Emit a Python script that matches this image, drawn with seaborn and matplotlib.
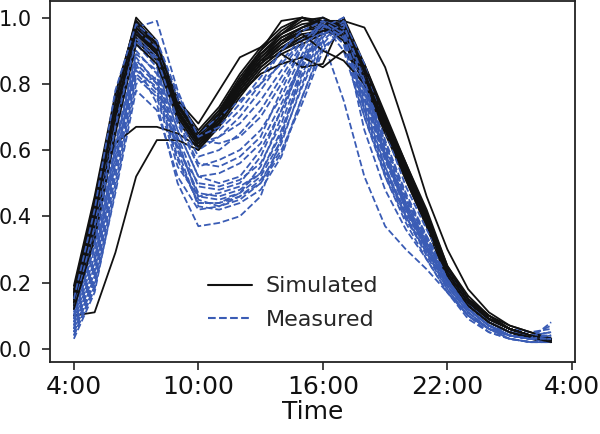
import numpy as np
import pandas as pd
import matplotlib
matplotlib.use("Agg")
import matplotlib.pyplot as plt
from matplotlib.lines import Line2D
import seaborn as sns

hours = list(range(4, 28))
xtick_pos = [4, 10, 16, 22, 28]
xtick_labels = ["4:00", "10:00", "16:00", "22:00", "4:00"]
yticks = [0.0, 0.2, 0.4, 0.6, 0.8, 1.0]

sim_01 = [0.15,0.40,0.72,0.97,0.90,0.72,0.63,0.70,0.79,0.87,0.92,0.96,0.98,0.96,0.82,0.67,0.53,0.39,0.23,0.14,0.09,0.06,0.04,0.03]
sim_02 = [0.17,0.43,0.75,1.00,0.93,0.74,0.64,0.71,0.80,0.89,0.95,0.99,1.00,0.97,0.84,0.69,0.55,0.41,0.24,0.15,0.10,0.06,0.04,0.025]
sim_03 = [0.13,0.36,0.68,0.94,0.88,0.70,0.61,0.68,0.77,0.85,0.90,0.94,0.97,0.99,0.85,0.70,0.55,0.40,0.23,0.14,0.09,0.06,0.04,0.03]
sim_04 = [0.16,0.42,0.73,0.98,0.91,0.73,0.65,0.72,0.82,0.90,0.96,1.00,0.98,0.94,0.80,0.66,0.52,0.38,0.22,0.13,0.08,0.05,0.035,0.02]
sim_05 = [0.14,0.38,0.70,0.95,0.89,0.71,0.62,0.69,0.78,0.86,0.91,0.95,0.96,0.95,0.83,0.68,0.54,0.40,0.24,0.15,0.09,0.06,0.04,0.03]
sim_06 = [0.18,0.45,0.76,0.99,0.92,0.75,0.66,0.73,0.83,0.91,0.97,1.00,0.99,0.96,0.81,0.66,0.51,0.37,0.21,0.13,0.08,0.05,0.03,0.02]
sim_07 = [0.12,0.34,0.66,0.93,0.87,0.69,0.60,0.67,0.76,0.84,0.89,0.92,0.95,0.97,0.86,0.71,0.56,0.41,0.25,0.15,0.10,0.06,0.04,0.03]
sim_08 = [0.15,0.39,0.71,0.96,0.90,0.72,0.63,0.70,0.80,0.88,0.94,0.97,0.99,0.98,0.84,0.69,0.54,0.39,0.23,0.14,0.09,0.06,0.04,0.03]
sim_09 = [0.10,0.11,0.29,0.52,0.63,0.63,0.60,0.68,0.78,0.86,0.91,0.94,0.96,0.96,0.83,0.68,0.53,0.39,0.23,0.14,0.09,0.06,0.04,0.03]
sim_10 = [0.17,0.44,0.62,0.67,0.67,0.65,0.61,0.69,0.79,0.87,0.93,0.96,0.97,0.95,0.82,0.67,0.52,0.38,0.22,0.13,0.08,0.05,0.035,0.02]
sim_11 = [0.16,0.41,0.72,0.97,0.91,0.75,0.68,0.78,0.88,0.91,0.95,1.00,0.98,0.93,0.80,0.65,0.51,0.37,0.21,0.13,0.08,0.05,0.03,0.02]
sim_12 = [0.14,0.37,0.69,0.95,0.89,0.72,0.62,0.69,0.78,0.86,0.92,0.96,0.99,0.99,0.97,0.85,0.66,0.46,0.30,0.18,0.11,0.07,0.05,0.03]
sim_13 = [0.15,0.40,0.71,0.96,0.90,0.73,0.64,0.71,0.80,0.87,0.89,0.85,0.86,1.00,0.86,0.70,0.55,0.40,0.24,0.15,0.09,0.06,0.04,0.03]
sim_14 = [0.13,0.35,0.67,0.93,0.88,0.71,0.62,0.69,0.77,0.83,0.86,0.88,0.85,0.90,0.82,0.68,0.54,0.40,0.24,0.15,0.10,0.06,0.04,0.03]
sim_15 = [0.16,0.41,0.73,0.97,0.91,0.74,0.64,0.71,0.81,0.90,0.99,1.00,0.97,0.93,0.80,0.66,0.52,0.38,0.22,0.13,0.08,0.05,0.035,0.025]
sim_16 = [0.14,0.38,0.70,0.96,0.90,0.72,0.63,0.70,0.79,0.87,0.93,0.97,1.00,0.97,0.83,0.68,0.54,0.40,0.24,0.15,0.09,0.06,0.04,0.03]
sim_17 = [0.19,0.46,0.77,0.99,0.92,0.74,0.64,0.71,0.81,0.89,0.94,0.97,0.99,0.94,0.81,0.67,0.53,0.39,0.23,0.14,0.09,0.06,0.04,0.03]
sim_18 = [0.12,0.33,0.65,0.92,0.86,0.70,0.61,0.68,0.77,0.85,0.90,0.93,0.96,0.98,0.85,0.70,0.56,0.42,0.25,0.16,0.10,0.07,0.05,0.03]
sim_19 = [0.15,0.40,0.72,0.96,0.89,0.71,0.62,0.70,0.80,0.88,0.93,0.95,0.90,0.87,0.80,0.67,0.53,0.39,0.23,0.14,0.09,0.06,0.04,0.03]
sim_20 = [0.17,0.42,0.74,0.98,0.92,0.74,0.65,0.72,0.81,0.89,0.95,0.98,0.99,0.96,0.82,0.67,0.52,0.38,0.22,0.13,0.08,0.05,0.035,0.02]

meas_01 = [0.08,0.30,0.65,0.92,0.85,0.66,0.52,0.50,0.52,0.60,0.72,0.86,0.97,0.99,0.78,0.58,0.42,0.30,0.20,0.12,0.07,0.04,0.03,0.02]
meas_02 = [0.05,0.22,0.55,0.85,0.78,0.58,0.44,0.44,0.47,0.55,0.70,0.88,0.98,0.96,0.72,0.52,0.38,0.27,0.17,0.10,0.06,0.03,0.02,0.02]
meas_03 = [0.12,0.38,0.74,0.96,0.92,0.76,0.62,0.64,0.68,0.75,0.84,0.93,0.99,0.97,0.80,0.62,0.46,0.34,0.23,0.14,0.09,0.06,0.05,0.06]
meas_04 = [0.03,0.17,0.48,0.80,0.82,0.63,0.45,0.43,0.45,0.50,0.62,0.80,0.94,1.00,0.82,0.60,0.44,0.32,0.21,0.12,0.07,0.04,0.03,0.03]
meas_05 = [0.10,0.33,0.70,0.97,0.99,0.78,0.63,0.62,0.64,0.70,0.80,0.91,0.98,0.95,0.76,0.57,0.42,0.30,0.19,0.11,0.06,0.04,0.03,0.04]
meas_06 = [0.06,0.25,0.60,0.88,0.80,0.60,0.43,0.42,0.44,0.48,0.58,0.76,0.92,0.99,0.84,0.63,0.47,0.34,0.22,0.13,0.08,0.05,0.04,0.05]
meas_07 = [0.07,0.26,0.58,0.86,0.74,0.50,0.37,0.38,0.40,0.46,0.64,0.85,0.95,0.97,0.78,0.58,0.43,0.31,0.20,0.12,0.07,0.04,0.03,0.03]
meas_08 = [0.11,0.36,0.72,0.95,0.88,0.72,0.60,0.64,0.70,0.78,0.87,0.94,0.98,0.90,0.70,0.53,0.40,0.29,0.19,0.11,0.06,0.04,0.03,0.02]
meas_09 = [0.04,0.19,0.50,0.82,0.76,0.55,0.46,0.47,0.49,0.53,0.66,0.83,0.96,0.98,0.80,0.59,0.43,0.31,0.20,0.12,0.07,0.04,0.03,0.03]
meas_10 = [0.09,0.31,0.66,0.93,0.86,0.68,0.55,0.57,0.60,0.66,0.76,0.89,0.99,0.96,0.74,0.55,0.40,0.29,0.18,0.10,0.05,0.03,0.02,0.02]
meas_11 = [0.13,0.40,0.77,0.98,0.90,0.73,0.64,0.66,0.72,0.80,0.90,0.97,1.00,0.93,0.72,0.54,0.40,0.28,0.18,0.10,0.06,0.03,0.02,0.02]
meas_12 = [0.05,0.21,0.54,0.84,0.79,0.60,0.50,0.49,0.51,0.56,0.68,0.85,0.97,0.94,0.66,0.48,0.36,0.27,0.17,0.09,0.05,0.03,0.02,0.02]
meas_13 = [0.08,0.28,0.62,0.90,0.83,0.64,0.49,0.48,0.50,0.58,0.72,0.88,0.93,0.75,0.52,0.37,0.30,0.24,0.17,0.10,0.06,0.04,0.03,0.03]
meas_14 = [0.06,0.24,0.57,0.87,0.81,0.62,0.46,0.45,0.47,0.52,0.63,0.79,0.93,0.99,0.86,0.66,0.49,0.36,0.24,0.14,0.08,0.05,0.04,0.07]
meas_15 = [0.10,0.34,0.69,0.94,0.87,0.70,0.58,0.60,0.65,0.72,0.82,0.92,0.99,0.97,0.77,0.58,0.43,0.31,0.20,0.12,0.07,0.05,0.04,0.05]
meas_16 = [0.07,0.27,0.61,0.89,0.84,0.66,0.52,0.53,0.56,0.62,0.74,0.87,0.97,1.00,0.79,0.59,0.44,0.32,0.21,0.12,0.07,0.04,0.03,0.03]
meas_17 = [0.12,0.37,0.73,0.96,0.91,0.75,0.65,0.70,0.75,0.80,0.86,0.93,0.98,0.92,0.70,0.52,0.39,0.29,0.19,0.11,0.06,0.04,0.03,0.02]
meas_18 = [0.04,0.18,0.47,0.78,0.72,0.52,0.42,0.43,0.46,0.51,0.60,0.74,0.90,0.97,0.82,0.62,0.46,0.33,0.22,0.13,0.08,0.05,0.04,0.04]
meas_19 = [0.09,0.32,0.67,0.93,0.88,0.69,0.56,0.55,0.58,0.64,0.78,0.91,0.98,0.94,0.73,0.55,0.41,0.30,0.19,0.11,0.06,0.04,0.03,0.03]
meas_20 = [0.06,0.23,0.56,0.86,0.80,0.61,0.47,0.46,0.48,0.53,0.65,0.82,0.95,0.98,0.81,0.61,0.45,0.33,0.21,0.12,0.07,0.04,0.03,0.08]
meas_21 = [0.15,0.42,0.78,0.98,0.93,0.77,0.64,0.67,0.74,0.82,0.90,0.96,0.99,0.95,0.75,0.57,0.43,0.31,0.20,0.12,0.07,0.04,0.03,0.03]
meas_22 = [0.05,0.20,0.52,0.83,0.77,0.57,0.44,0.44,0.46,0.50,0.59,0.76,0.91,0.96,0.80,0.60,0.44,0.32,0.21,0.12,0.07,0.04,0.03,0.04]

simulated = [sim_01, sim_02, sim_03, sim_04, sim_05, sim_06, sim_07, sim_08, sim_09, sim_10,
             sim_11, sim_12, sim_13, sim_14, sim_15, sim_16, sim_17, sim_18, sim_19, sim_20]
measured = [meas_01, meas_02, meas_03, meas_04, meas_05, meas_06, meas_07, meas_08, meas_09, meas_10, meas_11,
            meas_12, meas_13, meas_14, meas_15, meas_16, meas_17, meas_18, meas_19, meas_20, meas_21, meas_22]

sns.set_style("ticks")
plt.rcParams["font.family"] = ["DejaVu Sans"]

BLACK = "#111111"
BLUE = "#3a5cb5"

fig = plt.figure(figsize=(6.0, 4.34), dpi=100)
ax = fig.add_axes([50/600, 72/434, 525/600, 361/434])

n = max(len(simulated), len(measured))
for i in range(n):
    if i < len(simulated):
        sns.lineplot(x=hours, y=simulated[i], ax=ax, color=BLACK, lw=1.3, legend=False)
    if i < len(measured):
        sns.lineplot(x=hours, y=measured[i], ax=ax, color=BLUE, lw=1.3, linestyle="--", legend=False)

ax.set_xticks(xtick_pos)
ax.set_xticklabels(xtick_labels)
ax.set_yticks(yticks)
ax.set_yticklabels([f"{v:.1f}" for v in yticks])
ax.set_xlim(2.85, 28.15)
ax.set_ylim(-0.04, 1.05)
ax.tick_params(axis="x", labelsize=18, length=6, width=1.1, pad=3, colors="#111111")
ax.tick_params(axis="y", labelsize=15, length=6, width=1.1, pad=7, colors="#111111")
ax.set_xlabel("Time", fontsize=18, labelpad=1, color="#111111")
ax.set_ylabel("")
for s in ax.spines.values():
    s.set_linewidth(1.3)
    s.set_color("#222222")

handles = [Line2D([], [], color=BLACK, lw=1.5),
           Line2D([], [], color=BLUE, lw=1.5, linestyle="--")]
ax.legend(handles, ["Simulated", "Measured"], loc="center left",
          bbox_to_anchor=(0.301, 0.163), frameon=False, fontsize=16,
          labelspacing=0.6, handlelength=2.0, handletextpad=0.6, borderaxespad=0,
          borderpad=0)

fig.savefig("out.png", dpi=100)
